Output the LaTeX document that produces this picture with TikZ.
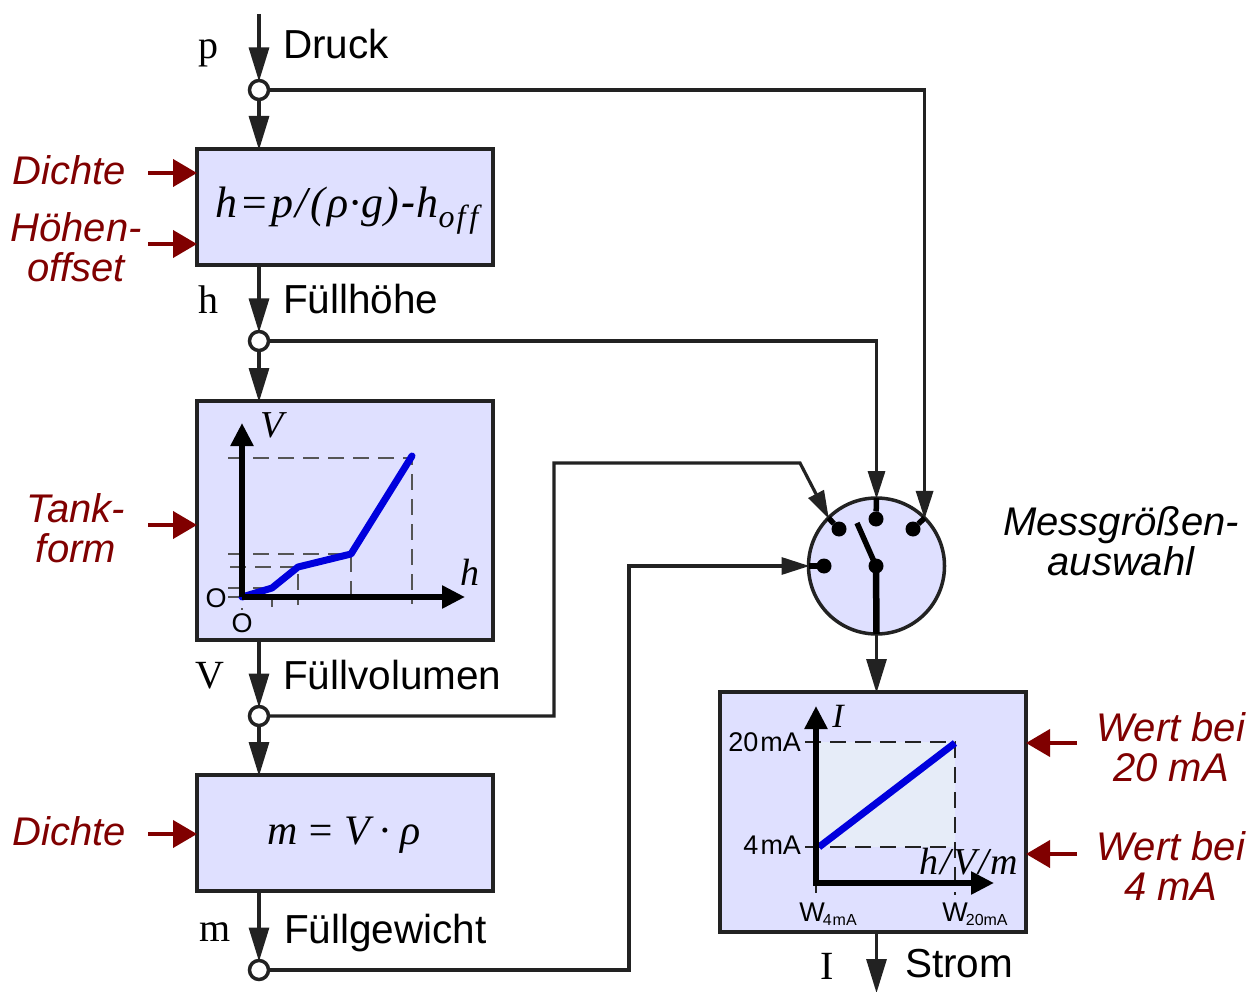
\documentclass[tikz,border=0pt]{standalone}
\usepackage{fontspec}
\setmainfont{Liberation Sans}
\newfontfamily\serf{Liberation Serif}
\newfontfamily\sansf{Liberation Sans}
\usetikzlibrary{arrows.meta,calc}
\definecolor{boxfill}{HTML}{DFE0FF}
\definecolor{ink}{HTML}{222222}
\definecolor{dred}{HTML}{800000}
\definecolor{chartblue}{HTML}{0000DD}
\definecolor{dashgray}{HTML}{555555}
\definecolor{paneblue}{HTML}{E6ECF8}
\tikzset{
  every node/.style={inner sep=0pt,outer sep=0pt},
  blockbox/.style={draw=ink,fill=boxfill,line width=3.5pt,rectangle},
  junction/.style={circle,draw=ink,fill=white,line width=3.5pt,minimum size=19pt},
  contact/.style={circle,fill=black,minimum size=15pt},
  flow/.style={draw=ink,line width=3.2pt,-{Triangle[length=34pt,width=20pt]},shorten >=-1pt},
  branch/.style={draw=ink,line width=3.2pt,-{Triangle[length=28pt,width=17pt]},shorten >=-1pt},
  heavy/.style={draw=black,line width=5.5pt},
  param/.style={draw=dred,line width=4pt,-{Triangle[length=24pt,width=27pt]}},
  chartaxis/.style={draw=black,line width=5.5pt,-{Triangle[length=23pt,width=22pt]}},
  guide/.style={draw=dashgray,line width=1.8pt,dash pattern=on 16pt off 9pt},
  curve/.style={draw=chartblue,line width=7pt,line cap=round,line join=round},
  sig/.style={anchor=base,font=\fontsize{40.5}{40}\selectfont},
  sym/.style={anchor=base,font=\fontsize{40}{40}\selectfont\serf},
  redtxt/.style={anchor=base,align=center,text=dred,font=\fontsize{40}{40}\selectfont\itshape},
  blacktxt/.style={anchor=base,align=center,font=\fontsize{40}{40}\selectfont\itshape},
  tick/.style={anchor=base,font=\fontsize{27}{27}\selectfont},
  axlabel/.style={anchor=base,font=\fontsize{38}{38}\selectfont\serf\itshape},
}
\begin{document}
\begin{tikzpicture}[x=1pt,y=-1pt]
\useasboundingbox (0,0) rectangle (1250,992);

% blocks
\node[blockbox,minimum width=296pt,minimum height=116pt] (b1) at (345,207) {};
\node[blockbox,minimum width=296pt,minimum height=239pt] (b2) at (345,520.5) {};
\node[blockbox,minimum width=296pt,minimum height=116pt] (b3) at (345,833) {};
\node[blockbox,minimum width=306pt,minimum height=240pt] (b4) at (873,812) {};
\node[circle,draw=ink,fill=boxfill,line width=3.5pt,minimum size=136pt] (sel) at (876.5,566) {};

% junctions
\node[junction] (j1) at (259,90) {};
\node[junction] (j2) at (259,341) {};
\node[junction] (j3) at (259,716) {};
\node[junction] (j4) at (259,970) {};

% free ends and bends
\coordinate (in) at (259,14);
\coordinate (out) at (876.5,992);
\coordinate (v1) at (554,716);
\coordinate (v2) at (554,463);
\coordinate (v3) at (800,463);
\coordinate (m1) at (629,970);
\coordinate (m2) at (629,566);
\coordinate (rd1) at (148,173);
\coordinate (rh1) at (148,244);
\coordinate (rt1) at (148,525);
\coordinate (rm1) at (148,834);
\coordinate (r20) at (1077,743);
\coordinate (r4) at (1077,854);

% main flow
\draw[flow] (in) -- (j1.north);
\draw[flow] (j1.south) -- (j1 |- b1.north);
\draw[flow] (j1 |- b1.south) -- (j2.north);
\draw[flow] (j2.south) -- (j2 |- b2.north);
\draw[flow] (j2 |- b2.south) -- (j3.north);
\draw[flow] (j3.south) -- (j3 |- b3.north);
\draw[flow] (j3 |- b3.south) -- (j4.north);
\draw[flow] (sel.south) -- (sel.south |- b4.north);
\draw[flow] (sel.south |- b4.south) -- (out);

% branches to the selector
\draw[branch] (j1.east) -- (j1 -| sel.45) -- (sel.45);
\draw[branch] (j2.east) -- (j2 -| sel.north) -- (sel.north);
\draw[branch] (j3.east) -- (v1) -- (v2) -- (v3) -- (sel.135);
\draw[branch] (j4.east) -- (m1) -- (m2) -- (sel.west);

% selector
\node[contact] (c1) at (839,529) {};
\node[contact] (c2) at (876,519) {};
\node[contact] (c3) at (913,529) {};
\node[contact] (c4) at (824,566) {};
\node[contact] (c5) at (876,566) {};
\coordinate (arm) at (857,523);
\draw[heavy] (sel.135) -- (c1);
\draw[heavy] (sel.north) -- (c2);
\draw[heavy] (sel.45) -- (c3);
\draw[heavy] (sel.west) -- (c4);
\draw[heavy] (c5.center) -- (arm);
\draw[draw=black,line width=6.5pt] (c5.center) -- (sel.south);

% parameters
\draw[param] (rd1) -- (rd1 -| b1.west);
\draw[param] (rh1) -- (rh1 -| b1.west);
\draw[param] (rt1) -- (rt1 -| b2.west);
\draw[param] (rm1) -- (rm1 -| b3.west);
\draw[param] (r20) -- (r20 -| b4.east);
\draw[param] (r4) -- (r4 -| b4.east);

% V(h) chart
\coordinate (o1) at (242,597);
\coordinate (k1) at (272,588);
\coordinate (k2) at (298,567);
\coordinate (k3) at (351,554);
\coordinate (k4) at (412,456);
\draw[guide] (228,458) -- (412,458) -- (412,604);
\draw[guide] (228,554) -- (351,554) -- (351,604);
\draw[guide] (230,567) -- (298,567) -- (298,605);
\draw[guide] (228,588) -- (272,588) -- (272,607);
\draw[guide] (228,597) -- (242,597) -- (242,610);
\draw[curve] (o1) -- (k1) -- (k2) -- (k3) -- (k4);
\draw[chartaxis] (o1) -- (242,423);
\draw[chartaxis] (o1) -- (465,597);
\node[axlabel] (lV) at (272,437) {V};
\node[axlabel] (lh) at (470,585) {h};
\node[tick] (z1) at (216,607) {O};
\node[tick] (z2) at (242,632) {O};

% I chart
\coordinate (o2) at (816,883);
\coordinate (p1) at (819,847);
\coordinate (p2) at (955,743);
\fill[paneblue] (816,742) rectangle (955,847);
\draw[guide,draw=ink] (805,742) -- (955,742) -- (955,895);
\draw[guide,draw=ink] (805,847) -- (955,847);
\draw[guide,draw=ink] (816,883) -- (816,893);
\draw[curve,line cap=butt] (p1) -- (p2);
\draw[chartaxis] (816,885.5) -- (816,706);
\draw[chartaxis] (813.5,883) -- (994,883);
\node[axlabel,font=\fontsize{34}{34}\selectfont\serf\itshape] (lI) at (838,727) {I};
\node[axlabel,font=\fontsize{38}{38}\selectfont\serf\itshape] (lhvm) at (969,874) {h\kern2pt/\kern2pt V\kern2pt/\kern2pt m};
\node[tick,anchor=base east] (t20) at (801,751) {20\kern2pt mA};
\node[tick,anchor=base east] (t4) at (801,854) {4\kern2pt mA};
\node[tick,anchor=base] (w4) at (828,921) {W\kern-2pt\raisebox{-4pt}{\fontsize{16}{16}\selectfont 4\kern1pt mA}};
\node[tick,anchor=base] (w20) at (975,921) {W\kern-2pt\raisebox{-4pt}{\fontsize{16}{16}\selectfont 20mA}};

% formulas
\node[anchor=base] (f1) at (347,218) {\fontsize{44}{44}\selectfont\serf\itshape h\kern2pt=\kern2pt p\kern2pt/\kern3pt(\kern2pt ρ\kern1pt·\kern1pt g\kern1pt)\kern2pt{\sansf -}\kern1pt h\raisebox{-10pt}{\fontsize{32}{32}\selectfont o\kern2pt f\kern4pt f}};
\node[anchor=base] (f2) at (344,844) {\fontsize{42}{42}\selectfont\serf\itshape m\kern9pt=\kern9pt V\kern10pt·\kern10pt ρ};

% signal labels
\node[sig,anchor=base west] (tD) at (283,59) {Druck};
\node[sig,anchor=base west] (tF) at (283,313) {Füllhöhe};
\node[sig,anchor=base west] (tV) at (283,689) {Füllvolumen};
\node[sig,anchor=base west] (tG) at (284,943) {Füllgewicht};
\node[sig,anchor=base west] (tS) at (905,977) {Strom};
\node[sym] (sp) at (208,59) {p};
\node[sym] (sh) at (208,313) {h};
\node[sym] (sv) at (210,688) {V};
\node[sym] (sm) at (215,941) {m};
\node[sym] (si) at (827,979) {I};

% parameter labels
\node[redtxt] (a1) at (69,185) {Dichte};
\node[redtxt] (a2) at (76,282) {Höhen-\\offset};
\node[redtxt] (a3) at (76,562) {Tank-\\form};
\node[redtxt] (a4) at (69,845) {Dichte};
\node[redtxt] (a5) at (1171,781) {Wert bei\\20 mA};
\node[redtxt] (a6) at (1171,900) {Wert bei\\4 mA};
\node[blacktxt] (a7) at (1121,575) {Messgrößen-\\auswahl};
\end{tikzpicture}
\end{document}
